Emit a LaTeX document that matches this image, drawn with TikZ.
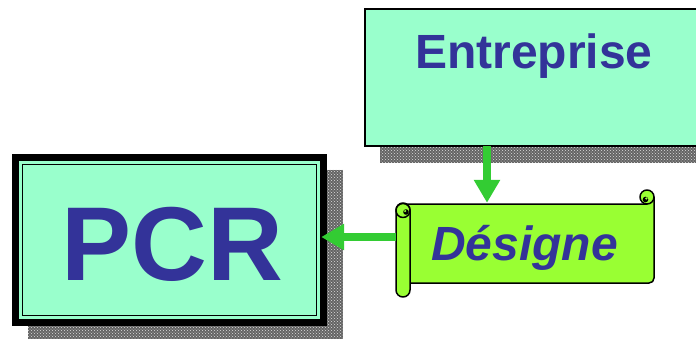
\documentclass[tikz,border=0pt]{standalone}
\usepackage{fontspec}
\setmainfont{Liberation Sans}
\usetikzlibrary{arrows.meta,calc,patterns,backgrounds}
\definecolor{mint}{RGB}{153,255,204}
\definecolor{txtblue}{RGB}{51,51,153}
\definecolor{arrgreen}{RGB}{51,204,51}
\definecolor{scrollgreen}{RGB}{153,255,51}
\definecolor{shadowgray}{RGB}{100,100,100}
\tikzset{
  shadowfill/.style={fill=shadowgray,postaction={pattern=crosshatch dots,pattern color=white!75!gray}},
  entbox/.style={draw=black,line width=1.5pt,fill=mint,minimum width=355pt,minimum height=137pt,inner sep=0pt},
  pcrbox/.style={fill=black,minimum width=315pt,minimum height=172pt,inner sep=0pt},
  lbl/.style={text=txtblue,inner sep=0pt,anchor=base west},
  scrollline/.style={draw=black,line width=1.5pt,fill=scrollgreen,line join=round},
  arr/.style={draw=arrgreen,line width=8pt,-{Triangle[length=23pt,width=25pt]}},
}
\begin{document}
\begin{tikzpicture}[x=1pt,y=-1pt]
\clip (0,0) rectangle (696,338);
% boxes
\node[entbox] (ent) at (542.5,77.5) {};
\node[pcrbox] (pcr) at (169.5,240) {};
\begin{scope}[on background layer]
  \path[shadowfill] ($(ent.north west)+(16,16)$) rectangle ($(ent.south east)+(16,16)$);
  \path[shadowfill] ($(pcr.north west)+(16,16)$) rectangle ($(pcr.south east)+(16,16)$);
\end{scope}
\fill[mint] ($(pcr.north west)+(7.5,7.5)$) rectangle ($(pcr.south east)+(-7.5,-7.5)$);
\draw[black,line width=1.5pt] ($(pcr.north west)+(10.5,10.5)$) rectangle ($(pcr.south east)+(-10.5,-10.5)$);
% scroll
\node[minimum width=258pt,minimum height=80pt,inner sep=0pt] (scroll) at (525,243) {};
\path[scrollline] (403,204) -- (647,204) -- (647,197) -- (654,197) -- (654,278)
  .. controls (654,281) and (652,283) .. (649,283) -- (403,283) -- cycle;
\path[scrollline] (647,197) circle[radius=7];
\fill[black] (645.5,199.5) circle[radius=2.8];
\fill[scrollgreen] (646.3,198.5) circle[radius=1.2];
\path[scrollline,rounded corners=7pt] (396,203) rectangle (410,297);
\path[scrollline] (403,210.5) circle[radius=7];
\fill[black] (406,212) circle[radius=2.8];
\fill[scrollgreen] (405.2,211) circle[radius=1.2];
% labels
\node[lbl,font=\fontsize{48}{48}\bfseries] (entlabel) at (415,68) {Entreprise};
\node[lbl,anchor=base,font=\fontsize{105}{105}\bfseries] (pcrlabel) at (172.5,280) {PCR};
\node[lbl,font=\fontsize{48}{48}\bfseries\itshape] (deslabel) at (431,260) {Désigne};
% connectors
\coordinate (vstart) at (487,146);
\coordinate (hstart) at (396,237);
\draw[arr] (vstart) -- (vstart |- scroll.north);
\draw[arr,shorten >=-6pt] (hstart) -- (hstart -| pcr.east);
\end{tikzpicture}
\end{document}
